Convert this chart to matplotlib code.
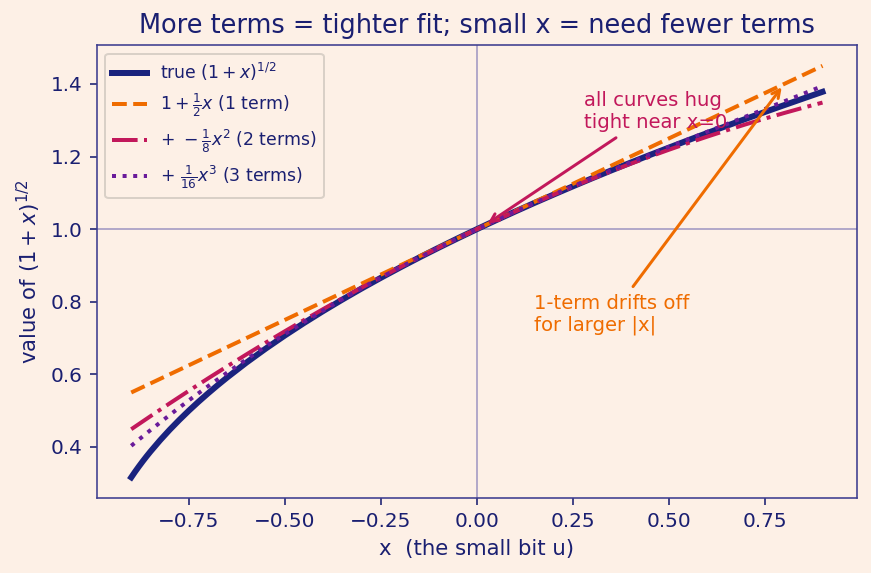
import numpy as np
import matplotlib.pyplot as plt

# colours
bg = '#fdf0e6'
ink = '#1a1f71'

# sample points (x) and values
x = [-0.90, -0.85, -0.80, -0.75, -0.70, -0.65, -0.60, -0.55, -0.50, -0.45,
     -0.40, -0.35, -0.30, -0.25, -0.20, -0.15, -0.10, -0.05, 0.00, 0.05,
     0.10, 0.15, 0.20, 0.25, 0.30, 0.35, 0.40, 0.45, 0.50, 0.55,
     0.60, 0.65, 0.70, 0.75, 0.80, 0.85, 0.90]

# the true curve bends hard near x = -0.9, so it gets a few extra points there
x_true = [-0.90, -0.89, -0.88, -0.87, -0.86, -0.85, -0.825, -0.80, -0.775, -0.75,
          -0.725, -0.70, -0.675, -0.65, -0.60, -0.55, -0.50, -0.45,
          -0.40, -0.35, -0.30, -0.25, -0.20, -0.15, -0.10, -0.05, 0.00, 0.05,
          0.10, 0.15, 0.20, 0.25, 0.30, 0.35, 0.40, 0.45, 0.50, 0.55,
          0.60, 0.65, 0.70, 0.75, 0.80, 0.85, 0.90]

true_vals = [0.3162, 0.3317, 0.3464, 0.3606, 0.3742, 0.3873, 0.4183, 0.4472, 0.4743, 0.5000,
             0.5244, 0.5477, 0.5701, 0.5916, 0.6325, 0.6708, 0.7071, 0.7416,
             0.7746, 0.8062, 0.8367, 0.8660, 0.8944, 0.9220, 0.9487, 0.9747, 1.0000, 1.0247,
             1.0488, 1.0724, 1.0954, 1.1180, 1.1402, 1.1619, 1.1832, 1.2042, 1.2247, 1.2450,
             1.2649, 1.2845, 1.3038, 1.3229, 1.3416, 1.3601, 1.3784]

one_term = [0.550, 0.575, 0.600, 0.625, 0.650, 0.675, 0.700, 0.725, 0.750, 0.775,
            0.800, 0.825, 0.850, 0.875, 0.900, 0.925, 0.950, 0.975, 1.000, 1.025,
            1.050, 1.075, 1.100, 1.125, 1.150, 1.175, 1.200, 1.225, 1.250, 1.275,
            1.300, 1.325, 1.350, 1.375, 1.400, 1.425, 1.450]

two_term = [0.4488, 0.4847, 0.5200, 0.5547, 0.5888, 0.6222, 0.6550, 0.6872, 0.7188, 0.7497,
            0.7800, 0.8097, 0.8388, 0.8672, 0.8950, 0.9222, 0.9488, 0.9747, 1.0000, 1.0247,
            1.0488, 1.0722, 1.0950, 1.1172, 1.1388, 1.1597, 1.1800, 1.1997, 1.2188, 1.2372,
            1.2550, 1.2722, 1.2888, 1.3047, 1.3200, 1.3347, 1.3488]

three_term = [0.4032, 0.4463, 0.4880, 0.5283, 0.5673, 0.6050, 0.6415, 0.6768, 0.7109, 0.7440,
              0.7760, 0.8070, 0.8371, 0.8662, 0.8945, 0.9220, 0.9487, 0.9747, 1.0000, 1.0247,
              1.0488, 1.0724, 1.0955, 1.1182, 1.1404, 1.1624, 1.1840, 1.2054, 1.2266, 1.2476,
              1.2685, 1.2893, 1.3102, 1.3311, 1.3520, 1.3731, 1.3943]

fig, ax = plt.subplots(figsize=(871 / 144, 573 / 144), dpi=144)
fig.patch.set_facecolor(bg)
ax.set_facecolor(bg)

# reference lines through (0, 1)
ax.axhline(1.0, color='#b3a9c9', lw=1, zorder=0)
ax.axvline(0.0, color='#b3a9c9', lw=1, zorder=0)

ax.plot(x_true, true_vals, color='#1a237e', lw=3, label=r'true $(1+x)^{1/2}$')
ax.plot(x, one_term, color='#ef6c00', lw=2, ls='--', label=r'$1+\frac{1}{2}x$ (1 term)')
ax.plot(x, two_term, color='#c2185b', lw=2, ls='-.', label=r'$+\ -\frac{1}{8}x^2$ (2 terms)')
ax.plot(x, three_term, color='#6a1b9a', lw=2, ls=':', label=r'$+\ \frac{1}{16}x^3$ (3 terms)')

ax.annotate('all curves hug\ntight near x=0', xy=(0.02, 1.01), xytext=(0.28, 1.28),
            color='#c2185b', fontsize=9.8,
            arrowprops=dict(arrowstyle='->', color='#c2185b', lw=1.5))
ax.annotate('1-term drifts off\nfor larger |x|', xy=(0.8, 1.4), xytext=(0.15, 0.72),
            color='#ef6c00', fontsize=9.8,
            arrowprops=dict(arrowstyle='->', color='#ef6c00', lw=1.5))

ax.set_title('More terms = tighter fit; small x = need fewer terms', color=ink, fontsize=12.8)
ax.set_xlabel('x  (the small bit u)', color=ink, fontsize=10.6)
ax.set_ylabel(r'value of $(1+x)^{1/2}$', color=ink, fontsize=10.6)
ax.tick_params(colors=ink, labelsize=10)
for s in ax.spines.values():
    s.set_color('#3d3d8f')

leg = ax.legend(loc='upper left', fontsize=8.6, facecolor=bg, edgecolor='#d0c8c0')
for t in leg.get_texts():
    t.set_color(ink)

fig.subplots_adjust(left=0.111, right=0.984, top=0.921, bottom=0.131)
plt.savefig('out.png', facecolor=bg)
